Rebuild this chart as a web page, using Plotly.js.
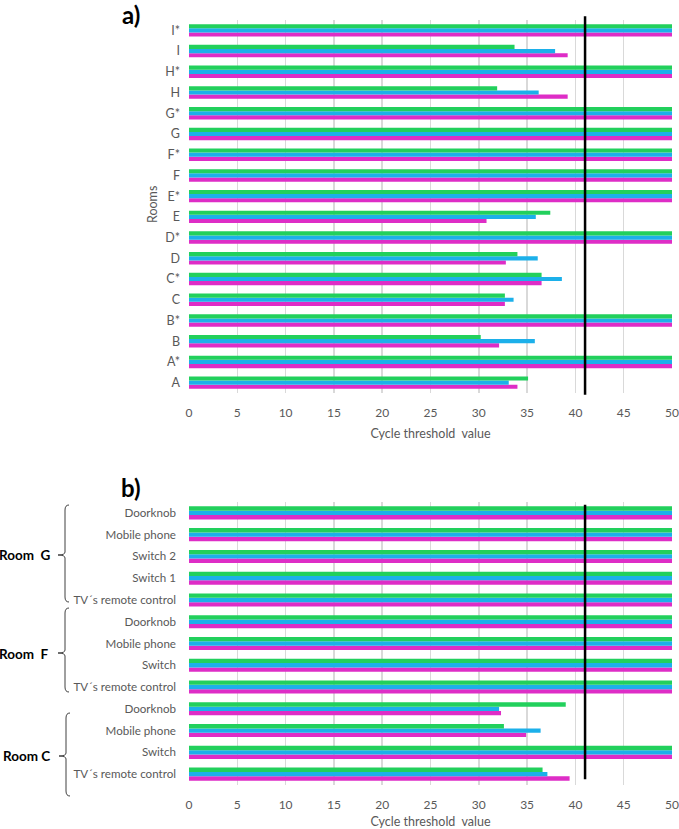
<!DOCTYPE html>
<html>
<head>
<meta charset="utf-8">
<script src="https://cdn.plot.ly/plotly-3.0.1.min.js"></script>
<style>html,body{margin:0;padding:0;background:#fff;}#chart{width:679px;height:829px;}</style>
</head>
<body>
<div id="chart"></div>
<script>
// ---- Data: panel a) ----
const roomsA = ["A","A*","B","B*","C","C*","D","D*","E","E*","F","F*","G","G*","H","H*","I","I*"];
const greenA   = [35.1,50,30.2,50,32.7,36.5,34.0,50,37.4,50,50,50,50,50,31.9,50,33.7,50];
const blueA    = [33.1,50,35.8,50,33.6,38.6,36.1,50,35.9,50,50,50,50,50,36.2,50,37.9,50];
const magentaA = [34.0,50,32.1,50,32.7,36.5,32.8,50,30.8,50,50,50,50,50,39.2,50,39.2,50];

// ---- Data: panel b) ----
const idsB    = ["C-TV","C-Switch","C-Mobile","C-Door","F-TV","F-Switch","F-Mobile","F-Door","G-TV","G-Switch1","G-Switch2","G-Mobile","G-Door"];
const labelsB = ["TV´s remote control","Switch","Mobile phone","Doorknob","TV´s remote control","Switch","Mobile phone","Doorknob","TV´s remote control","Switch 1","Switch 2","Mobile phone","Doorknob"];
const greenB   = [36.6,50,32.6,39.0,50,50,50,50,50,50,50,50,50];
const blueB    = [37.1,50,36.4,32.1,50,50,50,50,50,50,50,50,50];
const magentaB = [39.4,50,34.9,32.3,50,50,50,50,50,50,50,50,50];

const cutoff = 41;
const xTicks = [0,5,10,15,20,25,30,35,40,45,50];

const GREEN = "#22D05C", BLUE = "#1CB0EA", MAGENTA = "#DE2DC6";
const FONT = "Lato, 'Open Sans', sans-serif";
const GREY = "#595959";

// pixel -> paper helpers (margins l=189, r=7, t=0, b=0)
const L = 189, PW = 483, H = 829;
const px = v => (v - L) / PW;
const py = v => 1 - v / H;

function bar(x, y, color, xa, ya) {
  return {type: "bar", orientation: "h", x: x, y: y, xaxis: xa, yaxis: ya,
          marker: {color: color, line: {width: 0}}, showlegend: false, hoverinfo: "x+y"};
}

const traces = [
  bar(magentaA, roomsA, MAGENTA, "x", "y"),
  bar(blueA, roomsA, BLUE, "x", "y"),
  bar(greenA, roomsA, GREEN, "x", "y"),
  bar(magentaB, idsB, MAGENTA, "x2", "y2"),
  bar(blueB, idsB, BLUE, "x2", "y2"),
  bar(greenB, idsB, GREEN, "x2", "y2")
];

const xaxisCommon = {
  range: [0, 50], tickvals: xTicks, showgrid: true, gridcolor: "#D9D9D9", gridwidth: 1.5,
  zeroline: false, showline: false, ticks: "", ticklabelstandoff: 11, ticklabeloverflow: "allow",
  tickfont: {family: FONT, size: 12, color: GREY}, fixedrange: true
};

function brace(top, bottom, tip, xMain) {
  const xEnd = xMain + 4, xTip = xMain - 7, r = 5;
  const p = `M ${px(xEnd)},${py(top)} Q ${px(xMain)},${py(top)} ${px(xMain)},${py(top + r)} ` +
            `L ${px(xMain)},${py(tip - 3)} Q ${px(xMain)},${py(tip)} ${px(xTip)},${py(tip)} ` +
            `Q ${px(xMain)},${py(tip)} ${px(xMain)},${py(tip + 3)} ` +
            `L ${px(xMain)},${py(bottom - r)} Q ${px(xMain)},${py(bottom)} ${px(xEnd)},${py(bottom)}`;
  return {type: "path", xref: "paper", yref: "paper", path: p, line: {color: "#404040", width: 1}};
}

const layout = {
  width: 679, height: 829,
  margin: {l: L, r: 7, t: 0, b: 0},
  paper_bgcolor: "#fff", plot_bgcolor: "#fff",
  barmode: "group", bargap: 0.4, bargroupgap: 0,
  font: {family: FONT, color: GREY},
  xaxis: Object.assign({}, xaxisCommon, {anchor: "y",
    title: {text: "Cycle threshold  value", font: {family: FONT, size: 12.5, color: GREY}, standoff: 10}}),
  yaxis: {domain: [py(393), py(20)], type: "category", categoryorder: "array", categoryarray: roomsA,
    showgrid: false, zeroline: false, showline: false, ticks: "", ticklabelstandoff: 8,
    tickfont: {family: FONT, size: 12.5, color: GREY}, fixedrange: true},
  xaxis2: Object.assign({}, xaxisCommon, {anchor: "y2",
    title: {text: "Cycle threshold  value", font: {family: FONT, size: 12.5, color: GREY}, standoff: 9}}),
  yaxis2: {domain: [py(785), py(502)], type: "category", categoryorder: "array", categoryarray: idsB,
    tickvals: idsB, ticktext: labelsB,
    showgrid: false, zeroline: false, showline: false, ticks: "", ticklabelstandoff: 12,
    tickfont: {family: FONT, size: 11.6, color: GREY}, fixedrange: true},
  shapes: [
    {type: "line", xref: "x", yref: "y domain", x0: cutoff, x1: cutoff, y0: -0.005, y1: 1.01,
     line: {color: "#000", width: 2.5}},
    {type: "line", xref: "x2", yref: "y2 domain", x0: cutoff, x1: cutoff, y0: 0.02, y1: 0.99,
     line: {color: "#000", width: 2.5}},
    brace(505, 602, 555, 65),
    brace(608, 692, 653, 65),
    brace(713, 796, 756, 66)
  ],
  annotations: [
    {text: "Rooms", xref: "paper", yref: "paper", x: px(152), y: py(205), showarrow: false, textangle: -90,
     xanchor: "center", yanchor: "middle", font: {family: FONT, size: 12.5, color: GREY}},
    {text: "<b>a)</b>", xref: "paper", yref: "paper", x: px(131), y: py(14), showarrow: false,
     xanchor: "center", yanchor: "middle", font: {family: FONT, size: 24, color: "#000"}},
    {text: "<b>b)</b>", xref: "paper", yref: "paper", x: px(131), y: py(487), showarrow: false,
     xanchor: "center", yanchor: "middle", font: {family: FONT, size: 24, color: "#000"}},
    {text: "<b>Room  G</b>", xref: "paper", yref: "paper", x: px(53), y: py(555), showarrow: false,
     xanchor: "right", yanchor: "middle", font: {family: FONT, size: 13.5, color: "#000"}},
    {text: "<b>Room  F</b>", xref: "paper", yref: "paper", x: px(51), y: py(654), showarrow: false,
     xanchor: "right", yanchor: "middle", font: {family: FONT, size: 13.5, color: "#000"}},
    {text: "<b>Room C</b>", xref: "paper", yref: "paper", x: px(52), y: py(756), showarrow: false,
     xanchor: "right", yanchor: "middle", font: {family: FONT, size: 13.5, color: "#000"}}
  ]
};

Plotly.newPlot("chart", traces, layout, {displayModeBar: false, staticPlot: true});
</script>
</body>
</html>
